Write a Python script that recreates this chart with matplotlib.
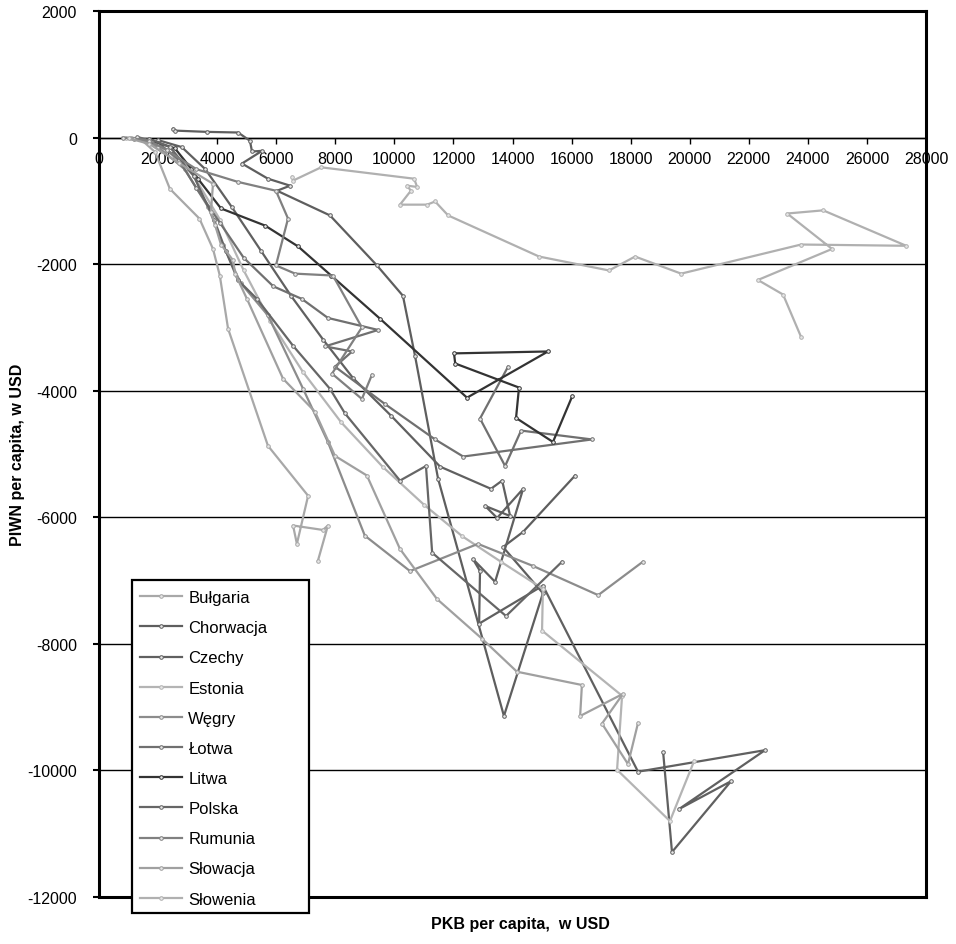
import matplotlib
matplotlib.use("Agg")
import matplotlib.pyplot as plt
from matplotlib.patches import Rectangle

plt.rcParams['font.family'] = ['Liberation Sans', 'DejaVu Sans']
plt.rcParams['axes.unicode_minus'] = False

# PKB per capita (x) i PIWN per capita (y), w USD
bulgaria_x = [1100, 1400, 1900, 2400, 3400, 3860, 4090, 4370, 5720, 7080, 6700, 6570, 7580, 7750, 7410]
bulgaria_y = [0, -20, -230, -810, -1280, -1760, -2180, -3020, -4870, -5660, -6420, -6130, -6200, -6130, -6690]

chorwacja_x = [2510, 2570, 3660, 4710, 5110, 5180, 5520, 4840, 5720, 6470, 6030, 7820, 9410, 10290, 10700,
               11480, 13710, 15030, 13680, 14360, 16120]
chorwacja_y = [140, 110, 90, 80, -50, -220, -210, -410, -650, -760, -840, -1230, -2020, -2500, -3450,
               -5390, -9140, -7200, -6470, -6230, -5340]

czechy_x = [2000, 2800, 3600, 4500, 5500, 6500, 7600, 8600, 9900, 11550, 13270, 13650, 13920, 13070, 13480,
            14360, 13410, 12660, 12900, 12870, 15030, 18250, 22550, 19640, 21400, 19400, 19100]
czechy_y = [-40, -150, -500, -1100, -1800, -2500, -3200, -3800, -4400, -5200, -5550, -5420, -5980, -5820, -6010,
            -5550, -7020, -6660, -6850, -7680, -7080, -10020, -9680, -10610, -10170, -11290, -9710]

estonia_x = [900, 1500, 2300, 3200, 4100, 4900, 5800, 6900, 8200, 9600, 11000, 12300, 13600, 15030, 15000,
             17710, 17540, 19330, 20150]
estonia_y = [0, -30, -200, -600, -1300, -2100, -2900, -3700, -4500, -5200, -5800, -6300, -6700, -7130, -7790,
             -8820, -9990, -10800, -9850]

wegry_x = [1300, 2000, 2900, 3700, 4200, 4800, 5720, 6910, 7750, 9000, 10530, 12830, 14700, 16900, 18420]
wegry_y = [-10, -150, -500, -1100, -1700, -2300, -2810, -3970, -4810, -6290, -6850, -6420, -6770, -7230, -6700]

lotwa_x = [1300, 2000, 2700, 3300, 4100, 4900, 5900, 6870, 7750, 9450, 7650, 8570, 7990, 9680, 11380, 12330,
           16690, 14290, 13750, 12900, 13850]
lotwa_y = [10, -80, -350, -800, -1350, -1900, -2350, -2550, -2850, -3040, -3300, -3380, -3620, -4210, -4770,
           -5040, -4770, -4630, -5190, -4440, -3620]

litwa_x = [1790, 2570, 3120, 3350, 4130, 5620, 6740, 7860, 9510, 12460, 15200, 12020, 12060, 14220, 14120,
           15370, 16020]
litwa_y = [-50, -170, -490, -650, -1120, -1390, -1720, -2180, -2860, -4110, -3380, -3410, -3570, -3950, -4430,
           -4810, -4090]

polska_x = [1700, 2400, 3200, 3900, 4300, 4700, 5350, 6570, 7820, 8330, 10190, 11070, 11280, 13780, 15680]
polska_y = [-20, -150, -600, -1300, -1800, -2250, -2550, -3290, -3970, -4360, -5420, -5190, -6560, -7560, -6700]

rumunia_x = [800, 1200, 1700, 2300, 3300, 4700, 5990, 6400, 5990, 6640, 7920, 8900, 7890, 8900, 9240]
rumunia_y = [0, -20, -50, -200, -500, -700, -840, -1280, -2020, -2150, -2180, -3000, -3730, -4130, -3750]

slowacja_x = [1000, 1700, 2700, 3860, 3790, 3930, 4130, 4540, 4610, 5010, 6230, 7310, 7990, 9070, 10190,
              11440, 12970, 14150, 16350, 16290, 17740, 17030, 17910, 18250]
slowacja_y = [-10, -100, -400, -730, -1170, -1380, -1690, -1940, -2150, -2550, -3810, -4330, -5030, -5340, -6500,
              -7290, -7920, -8440, -8650, -9140, -8790, -9260, -9900, -9250]

slowenia_x = [6540, 6570, 7520, 10670, 10770, 10430, 10560, 10190, 11110, 11380, 11820, 14900, 17270, 18150,
              19710, 23770, 27330, 24520, 23300, 24820, 22310, 23160, 23770]
slowenia_y = [-620, -680, -470, -650, -780, -760, -840, -1060, -1060, -1010, -1230, -1880, -2100, -1880,
              -2150, -1690, -1710, -1150, -1200, -1760, -2250, -2480, -3150]

countries = ['Bułgaria', 'Chorwacja', 'Czechy', 'Estonia', 'Węgry', 'Łotwa', 'Litwa', 'Polska',
             'Rumunia', 'Słowacja', 'Słowenia']
xs = [bulgaria_x, chorwacja_x, czechy_x, estonia_x, wegry_x, lotwa_x, litwa_x, polska_x,
      rumunia_x, slowacja_x, slowenia_x]
ys = [bulgaria_y, chorwacja_y, czechy_y, estonia_y, wegry_y, lotwa_y, litwa_y, polska_y,
      rumunia_y, slowacja_y, slowenia_y]
colors = ['#a8a8a8', '#5e5e5e', '#606060', '#b4b4b4', '#8c8c8c', '#707070', '#333333', '#666666',
          '#808080', '#a0a0a0', '#b0b0b0']

W, H = 956, 945
fig = plt.figure(figsize=(W / 100, H / 100), dpi=100)
ax = fig.add_axes([99 / W, 1 - 898 / H, 827 / W, 886 / H])

for x, y, c, name in zip(xs, ys, colors, countries):
    ax.plot(x, y, color=c, lw=1.6, marker='o', markersize=2.6, markerfacecolor='#e6e6e6',
            markeredgecolor=c, markeredgewidth=0.7, label=name, zorder=3)

ax.set_xlim(0, 28000)
ax.set_ylim(-12000, 2000)
ax.set_xticks(range(0, 28001, 2000))
ax.set_yticks(range(-12000, 2001, 2000))

# axis x runs along y = 0, frame drawn separately
ax.spines['bottom'].set_position(('data', 0))
ax.spines['bottom'].set_linewidth(1.0)
for s in ['left', 'top', 'right']:
    ax.spines[s].set_linewidth(2.2)
ax.axhline(-12000, color='black', lw=2.2, zorder=4, clip_on=False)

ax.yaxis.grid(True, color='black', lw=1.0)
ax.set_axisbelow(True)

ax.tick_params(axis='x', direction='out', length=4, width=1, pad=6, labelsize=11.5)
ax.tick_params(axis='y', direction='out', length=4, width=1.5, pad=12, labelsize=11.5)

# legend with its own frame
fig.patches.append(Rectangle((132 / W, 1 - 914 / H), 177 / W, 333 / H, transform=fig.transFigure,
                             facecolor='white', edgecolor='black', lw=1.6, zorder=5))
leg = fig.legend(loc='upper left', bbox_to_anchor=(140 / W, 1 - 591 / H), frameon=False,
                 borderpad=0, borderaxespad=0, handlelength=2.5, handletextpad=0.4,
                 labelspacing=0.91, fontsize=12)
leg.set_zorder(6)

fig.text(520 / W, 1 - 925 / H, 'PKB per capita,  w USD', ha='center', va='center',
         fontsize=11.5, fontweight='bold')
fig.text(18 / W, 1 - 455 / H, 'PIWN per capita, w USD', ha='center', va='center',
         rotation=90, fontsize=11.5, fontweight='bold')

fig.savefig('out.png', dpi=100)
